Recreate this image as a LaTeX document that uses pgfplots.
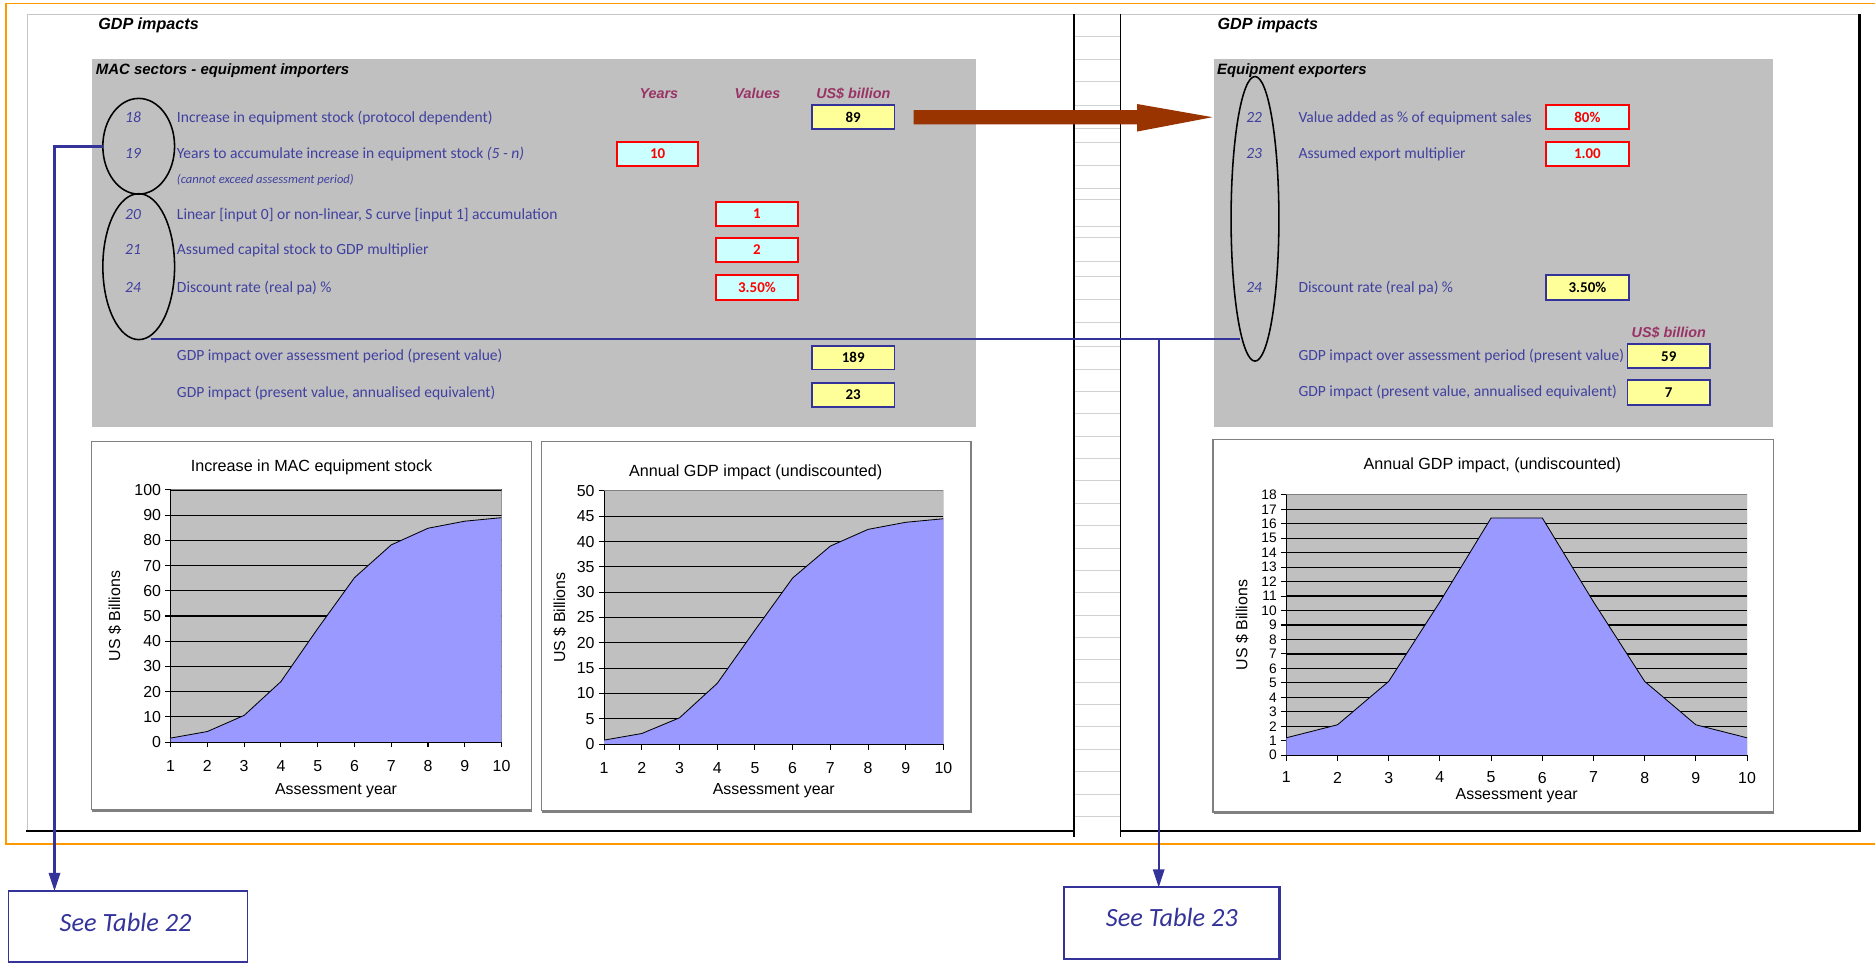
\documentclass[border=0pt]{standalone}
\usepackage{pgfplots}
\pgfplotsset{compat=1.18}
\usetikzlibrary{arrows.meta}
\usepackage{fontspec}
\setmainfont{Liberation Sans}
\newfontfamily\calibri{Carlito}

\definecolor{plotgray}{RGB}{192,192,192}
\definecolor{areablue}{RGB}{153,153,255}
\definecolor{navy}{RGB}{51,51,153}
\definecolor{labelblue}{RGB}{64,64,160}
\definecolor{maroon}{RGB}{153,51,102}
\definecolor{cellcyan}{RGB}{204,255,255}
\definecolor{cellyellow}{RGB}{255,255,153}
\definecolor{arrowbrown}{RGB}{153,51,0}
\definecolor{sheetorange}{RGB}{255,153,0}
\definecolor{framegray}{RGB}{128,128,128}

\newcommand{\fs}[1]{\fontsize{#1}{#1}\selectfont}

\tikzset{
  lbl/.style={anchor=mid west, inner sep=0pt, text=labelblue, font=\calibri\fs{13}},
  rownum/.style={anchor=mid, inner sep=0pt, text=labelblue, font=\calibri\itshape\fs{13}},
  hdr/.style={anchor=mid, inner sep=0pt, text=maroon, font=\bfseries\itshape\fs{12}},
  sheettitle/.style={anchor=mid west, inner sep=0pt, font=\bfseries\itshape\fs{13.5}},
  charttitle/.style={anchor=mid, inner sep=0pt, font=\fs{13.5}},
}
% red input cell: x1,y1,x2,y2,text
\newcommand{\redcell}[5]{%
  \draw[red, line width=1.6pt, fill=cellcyan] (#1,#2) rectangle (#3,#4);
  \node[inner sep=0pt, text=red, font=\calibri\bfseries\fs{12.5}] at ({(#1+#3)/2},{(#2+#4)/2}) {#5};}
% yellow result cell
\newcommand{\ycell}[5]{%
  \draw[navy, line width=1.6pt, fill=cellyellow] (#1,#2) rectangle (#3,#4);
  \node[inner sep=0pt, text=black, font=\calibri\bfseries\fs{12.5}] at ({(#1+#3)/2},{(#2+#4)/2}) {#5};}

\pgfplotsset{
  sheetchart/.style={
    scale only axis,
    xmin=1, xmax=10, ymin=0,
    xtick={1,...,10},
    axis background/.style={fill=plotgray},
    axis x line*=bottom, axis y line*=left,
    axis line style={black, line width=0.9pt},
    ymajorgrids, grid style={black, line width=1pt},
    tick align=outside, major tick length=4.5pt,
    tick style={black, line width=0.9pt},
    ticklabel style={font=\fs{13.3}},
    /pgf/number format/assume math mode=true,
    xticklabel style={yshift=-7.5pt},
    xlabel={Assessment year},
    ylabel={US \$ Billions},
    every axis x label/.style={at={(axis description cs:0.5,0)}, anchor=center, font=\fs{13.3}},
    every axis y label/.style={rotate=90, anchor=center, font=\fs{13.3}},
  },
  areafill/.style={fill=areablue, draw=none},
  areaedge/.style={black, line width=0.7pt},
}

\begin{document}
\begin{tikzpicture}
\begin{scope}[x=1pt, y=-1pt]
\useasboundingbox (0,0) rectangle (1568,805);

% sheet borders
\draw[sheetorange, line width=1.5pt] (1568,3) -- (5,3) -- (5,706) -- (1568,706);
\draw[gray!45, line width=0.8pt] (23,695) -- (23,12) -- (1555,12);
\foreach \yy in {30.7,49.6,68.3,88.6,107.3,119.3,138.5,158,167,189.5,199,218.7,231,250.7,269.5,290,308.7,327.4,346,364.8,383.5,402.2,420.9,439.6,458.3,477,495.7,514.4,533.1,551.8,570.5,589.2,607.9,626.6,645.3,664,682.7}
  \draw[gray!35, line width=0.8pt] (898,\yy) -- (937,\yy);
\draw[black, line width=1.3pt] (898,12) -- (898,700);
\draw[black, line width=1.3pt] (937,12) -- (937,700);
\draw[black, line width=2.2pt] (22,695) -- (898,695);
\draw[black, line width=2.2pt] (937,695) -- (1555,695) -- (1555,12);

% grey input panels
\fill[plotgray] (77,49.6) rectangle (816,357);
\fill[plotgray] (1015,49.6) rectangle (1483,357);

% chart frames
\draw[framegray, line width=1pt, fill=white] (76.6,369) rectangle (444.5,677);
\draw[framegray, line width=2.5pt] (77,677.5) -- (445,677.5);
\draw[framegray, line width=1pt, fill=white] (452.8,369) rectangle (812,678);
\draw[framegray, line width=2.5pt] (453,678.5) -- (812.5,678.5);
\draw[framegray, line width=1pt, fill=white] (1014.4,367.3) rectangle (1483,679);
\draw[framegray, line width=2.5pt] (1015,679.5) -- (1483.5,679.5);

% left panel text
\node[sheettitle] at (82,22) {GDP impacts};
\node[sheettitle, font=\bfseries\itshape\fs{12.5}] at (80,60) {MAC sectors - equipment importers};
\node[hdr] at (551,80) {Years};
\node[hdr] at (633.5,80) {Values};
\node[hdr] at (713.6,80) {US\$ billion};
\node[rownum] at (111.3,99.5) {18};
\node[rownum] at (111.3,130) {19};
\node[rownum] at (111.3,180.6) {20};
\node[rownum] at (111.3,210) {21};
\node[rownum] at (111.3,241.9) {24};
\node[lbl] at (147.8,99.5) {Increase in equipment stock (protocol dependent)};
\node[lbl] at (147.8,130) {Years to accumulate increase in equipment stock \textit{(5 - n)}};
\node[lbl, font=\calibri\itshape\fs{10.5}] at (147.8,150.5) {(cannot exceed assessment period)};
\node[lbl] at (147.8,180.6) {Linear [input 0] or non-linear, S curve [input 1] accumulation};
\node[lbl] at (147.8,210) {Assumed capital stock to GDP multiplier};
\node[lbl] at (147.8,241.9) {Discount rate (real pa) \%};
\node[lbl] at (147.8,299) {GDP impact over assessment period (present value)};
\node[lbl] at (147.8,330) {GDP impact (present value, annualised equivalent)};
\ycell{679}{88}{748}{108}{89}
\redcell{516}{118.5}{584}{138.5}{10}
\redcell{599}{169}{667}{189}{1}
\redcell{599}{199}{667}{219}{2}
\redcell{599}{230}{667}{251}{3.50\%}
\ycell{679}{289}{748}{309}{189}
\ycell{679}{320}{748}{340}{23}

% right panel text
\node[sheettitle] at (1018,22) {GDP impacts};
\node[sheettitle, font=\bfseries\itshape\fs{12.5}] at (1017.6,60) {Equipment exporters};
\node[rownum] at (1048.8,99.5) {22};
\node[rownum] at (1048.8,130) {23};
\node[rownum] at (1048.8,242) {24};
\node[lbl] at (1085.7,99.5) {Value added as \% of equipment sales};
\node[lbl] at (1085.7,130) {Assumed export multiplier};
\node[lbl] at (1085.7,242) {Discount rate (real pa) \%};
\node[lbl] at (1085.7,299) {GDP impact over assessment period (present value)};
\node[lbl] at (1085.7,329) {GDP impact (present value, annualised equivalent)};
\node[hdr] at (1395.5,280) {US\$ billion};
\redcell{1293}{88}{1362}{108}{80\%}
\redcell{1293}{118.7}{1362}{138.5}{1.00}
\ycell{1293}{230}{1362}{251}{3.50\%}
\ycell{1361}{288}{1430}{308}{59}
\ycell{1361}{318}{1430}{339}{7}

% annotation ellipses and connectors
\draw[black, line width=1.3pt] (116,122.3) ellipse [x radius=30, y radius=40];
\draw[black, line width=1.3pt] (116,223) ellipse [x radius=30, y radius=61];
\draw[black, line width=1.3pt] (1049.5,183) ellipse [x radius=20, y radius=119];
\fill[arrowbrown] (764,92) -- (951,92) -- (951,87) -- (1014,98) -- (951,110) -- (951,104) -- (764,104) -- cycle;
\draw[navy, line width=2pt] (86,122.6) -- (45.6,122.6) -- (45.6,732);
\fill[navy] (40.6,730) -- (50.6,730) -- (45.6,745) -- cycle;
\draw[navy, line width=2pt] (126,283.5) -- (1036.7,283.5);
\draw[navy, line width=2pt] (969,283.5) -- (969,728);
\fill[navy] (964,727) -- (974,727) -- (969,742) -- cycle;
\draw[navy, line width=1.2pt] (7,745) rectangle (207,804.4);
\node[text=navy, font=\calibri\itshape\fs{22}] at (105,771) {See Table 22};
\draw[navy, line width=2pt] (890,742) rectangle (1070,802);
\node[text=navy, font=\calibri\itshape\fs{22}] at (980,767) {See Table 23};

% chart titles
\node[charttitle] at (260.5,392) {Increase in MAC equipment stock};
\node[charttitle] at (632,395.5) {Annual GDP impact (undiscounted)};
\node[charttitle] at (1248,390) {Annual GDP impact, (undiscounted)};
\end{scope}

% chart 1: cumulative increase in equipment stock
\begin{axis}[sheetchart, at={(142.7pt,-620.6pt)}, anchor=south west,
  width=276.7pt, height=210.9pt, ymax=100, ytick={0,10,...,100},
  xlabel style={yshift=-40.4pt},
  ylabel style={at={(axis description cs:-0.169,0.5)}}]
\addplot[areafill] coordinates {(1,1.6) (2,4.2) (3,10.6) (4,24) (5,45) (6,65.2) (7,78.2) (8,84.8) (9,87.6) (10,89)} \closedcycle;
\addplot[areaedge] coordinates {(1,1.6) (2,4.2) (3,10.6) (4,24) (5,45) (6,65.2) (7,78.2) (8,84.8) (9,87.6) (10,89)};
\draw[framegray, line width=0.9pt] (rel axis cs:0,1) -- (rel axis cs:1,1) -- (rel axis cs:1,0);
\draw[black, line width=0.9pt] (rel axis cs:0,0) -- (rel axis cs:1,0);
\end{axis}

% chart 2: annual GDP impact, importers
\begin{axis}[sheetchart, at={(505.2pt,-622.3pt)}, anchor=south west,
  width=283.8pt, height=211.8pt, ymax=50, ytick={0,5,...,50},
  xlabel style={yshift=-38.7pt},
  ylabel style={at={(axis description cs:-0.131,0.5)}}]
\addplot[areafill] coordinates {(1,0.8) (2,2.1) (3,5.2) (4,12) (5,22.5) (6,32.8) (7,39.1) (8,42.4) (9,43.8) (10,44.5)} \closedcycle;
\addplot[areaedge] coordinates {(1,0.8) (2,2.1) (3,5.2) (4,12) (5,22.5) (6,32.8) (7,39.1) (8,42.4) (9,43.8) (10,44.5)};
\draw[framegray, line width=0.9pt] (rel axis cs:0,1) -- (rel axis cs:1,1) -- (rel axis cs:1,0);
\draw[black, line width=0.9pt] (rel axis cs:0,0) -- (rel axis cs:1,0);
\end{axis}

% chart 3: annual GDP impact, exporters
\begin{axis}[sheetchart, at={(1075.7pt,-631.5pt)}, anchor=south west,
  width=385.3pt, height=217.7pt, ymax=18, ytick={0,1,...,18},
  yticklabel style={font=\fs{11.5}},
  xticklabel style={yshift=1.5pt},
  xlabel style={yshift=-33.5pt},
  ylabel style={at={(axis description cs:-0.096,0.5)}}]
\addplot[areafill] coordinates {(1,1.2) (2,2.1) (3,5.1) (4,10.6) (5,16.4) (6,16.4) (7,10.6) (8,5.1) (9,2.1) (10,1.2)} \closedcycle;
\addplot[areaedge] coordinates {(1,1.2) (2,2.1) (3,5.1) (4,10.6) (5,16.4) (6,16.4) (7,10.6) (8,5.1) (9,2.1) (10,1.2)};
\draw[framegray, line width=0.9pt] (rel axis cs:0,1) -- (rel axis cs:1,1) -- (rel axis cs:1,0);
\draw[black, line width=0.9pt] (rel axis cs:0,0) -- (rel axis cs:1,0);
\end{axis}
\end{tikzpicture}
\end{document}
